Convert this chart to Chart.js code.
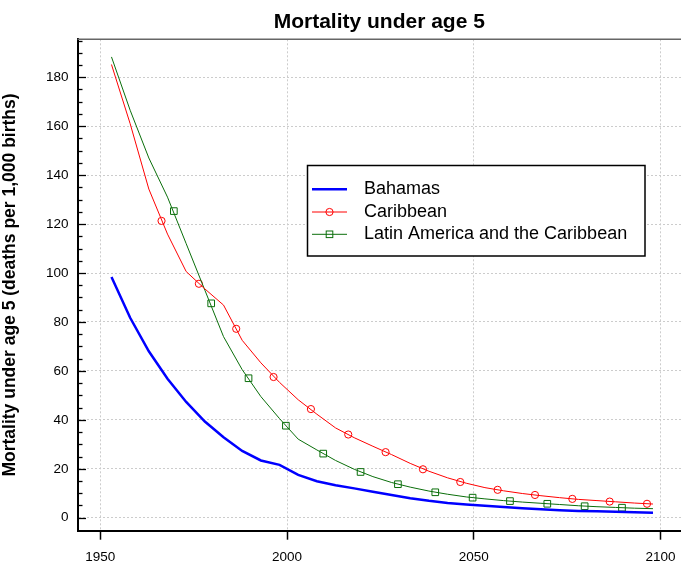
<!DOCTYPE html>
<html>
<head>
<meta charset="utf-8">
<script src="https://cdn.jsdelivr.net/npm/chart.js@4/dist/chart.umd.min.js"></script>
<style>
html, body { margin: 0; padding: 0; background: #fff; }
</style>
</head>
<body>
<canvas id="chart" width="681" height="565"></canvas>
<script>
var chartTitle = "Mortality under age 5";
var yTitle = "Mortality under age 5 (deaths per 1,000 births)";
var seriesNames = ["Bahamas", "Caribbean", "Latin America and the Caribbean"];

var years = [1953, 1958, 1963, 1968, 1973, 1978, 1983, 1988, 1993, 1998,
             2003, 2008, 2013, 2018, 2023, 2028, 2033, 2038, 2043, 2048,
             2053, 2058, 2063, 2068, 2073, 2078, 2083, 2088, 2093, 2098];
var bahamas = [98.4, 81.7, 68.0, 56.8, 47.3, 39.3, 32.9, 27.3, 23.4, 21.6,
               17.5, 14.9, 13.3, 12.0, 10.6, 9.3, 8.0, 6.9, 6.0, 5.4,
               4.9, 4.4, 3.9, 3.5, 3.1, 2.8, 2.6, 2.4, 2.2, 2.0];
var caribbean = [185.2, 161.0, 134.3, 115.9, 100.6, 93.5, 86.9, 72.5, 63.3, 55.3,
                 48.2, 42.3, 36.7, 32.7, 29.2, 25.8, 22.2, 19.0, 16.3, 14.1,
                 12.3, 11.0, 9.9, 9.0, 8.2, 7.5, 7.0, 6.5, 6.0, 5.6];
var latam = [188.3, 166.5, 147.0, 131.0, 112.0, 93.0, 74.0, 60.5, 49.5, 40.5,
             32.1, 27.7, 23.4, 19.8, 16.8, 14.4, 12.5, 10.9, 9.6, 8.5,
             7.7, 7.0, 6.4, 5.9, 5.4, 4.9, 4.5, 4.2, 3.9, 3.7];

// marker positions along the lines
var caribMarkYears = [1966.4, 1976.4, 1986.4, 1996.4, 2006.4, 2016.4, 2026.4,
                      2036.4, 2046.4, 2056.4, 2066.4, 2076.4, 2086.4, 2096.4];
var caribMarks = [121.3, 95.6, 77.2, 57.5, 44.4, 34.0, 26.8, 19.8, 14.6, 11.4, 9.3, 7.7, 6.6, 5.7];
var latamMarkYears = [1969.7, 1979.7, 1989.7, 1999.7, 2009.7, 2019.7, 2029.7,
                      2039.7, 2049.7, 2059.7, 2069.7, 2079.7, 2089.7];
var latamMarks = [125.3, 87.6, 57.0, 37.6, 26.2, 18.7, 13.7, 10.4, 8.2, 6.8, 5.7, 4.7, 4.1];

var xTicks = [1950, 2000, 2050, 2100];
var yTicks = [0, 20, 40, 60, 80, 100, 120, 140, 160, 180];

var font = "'Liberation Sans', Arial, Helvetica, sans-serif";
var blue = "#0000ff", red = "#ff0000", green = "#0a6e0a";

function xy(xs, ys) {
    return xs.map(function (x, i) { return { x: x, y: ys[i] }; });
}

var extras = {
    id: 'extras',
    beforeDatasetsDraw: function (chart) {
        var ctx = chart.ctx, ca = chart.chartArea, ys = chart.scales.y;
        ctx.save();
        // top frame line
        ctx.strokeStyle = "#666";
        ctx.lineWidth = 1.5;
        ctx.beginPath();
        ctx.moveTo(ca.left, ca.top);
        ctx.lineTo(ca.right, ca.top);
        ctx.stroke();
        // inward y ticks, minor every 5
        ctx.strokeStyle = "#000";
        ctx.lineWidth = 1.3;
        for (var v = 0; v <= ys.max; v += 5) {
            var py = Math.round(ys.getPixelForValue(v)) + 0.5;
            var len = (v % 20 === 0) ? 8.5 : 5;
            ctx.beginPath();
            ctx.moveTo(ca.left, py);
            ctx.lineTo(ca.left + len, py);
            ctx.stroke();
        }
        ctx.restore();
    },
    afterDatasetsDraw: function (chart) {
        var ctx = chart.ctx;
        ctx.save();
        // legend box
        ctx.fillStyle = "#fff";
        ctx.fillRect(307.5, 165.5, 337.5, 90.5);
        ctx.strokeStyle = "#000";
        ctx.lineWidth = 1.5;
        ctx.strokeRect(307.5, 165.5, 337.5, 90.5);
        var rows = [189.3, 212, 234.3];
        var cols = [blue, red, green];
        var widths = [2.5, 1, 1];
        for (var i = 0; i < 3; i++) {
            ctx.strokeStyle = cols[i];
            ctx.lineWidth = widths[i];
            ctx.beginPath();
            ctx.moveTo(312, rows[i]);
            ctx.lineTo(347, rows[i]);
            ctx.stroke();
            ctx.lineWidth = 1;
            if (i === 1) {
                ctx.beginPath();
                ctx.arc(329.5, rows[i], 3.6, 0, Math.PI * 2);
                ctx.stroke();
            } else if (i === 2) {
                ctx.strokeRect(326.2, rows[i] - 3.3, 6.6, 6.6);
            }
            ctx.fillStyle = "#000";
            ctx.font = "18px " + font;
            ctx.textAlign = "left";
            ctx.textBaseline = "middle";
            ctx.fillText(seriesNames[i], 364, rows[i]);
        }
        ctx.restore();
    },
    afterDraw: function (chart) {
        var ctx = chart.ctx, ca = chart.chartArea;
        ctx.save();
        ctx.fillStyle = "#000";
        ctx.font = "bold 21px " + font;
        ctx.textAlign = "center";
        ctx.textBaseline = "middle";
        ctx.fillText(chartTitle, (ca.left + ca.right) / 2, 22.5);
        ctx.restore();
    }
};

var ctx = document.getElementById("chart").getContext("2d");
var chart = new Chart(ctx, {
    type: 'line',
    data: {
        datasets: [
            { label: seriesNames[0], data: xy(years, bahamas), borderColor: blue, borderWidth: 2.5,
              pointRadius: 0, fill: false, tension: 0 },
            { label: seriesNames[1], data: xy(years, caribbean), borderColor: red, borderWidth: 1,
              pointRadius: 0, fill: false, tension: 0 },
            { label: seriesNames[2], data: xy(years, latam), borderColor: green, borderWidth: 1,
              pointRadius: 0, fill: false, tension: 0 },
            { label: "carib marks", data: xy(caribMarkYears, caribMarks), showLine: false,
              pointStyle: 'circle', pointRadius: 3.6, pointBorderWidth: 1,
              pointBorderColor: red, pointBackgroundColor: 'rgba(0,0,0,0)' },
            { label: "latam marks", data: xy(latamMarkYears, latamMarks), showLine: false,
              pointStyle: 'rect', pointRadius: 4.7, pointBorderWidth: 1,
              pointBorderColor: green, pointBackgroundColor: 'rgba(0,0,0,0)' }
        ]
    },
    options: {
        responsive: false,
        animation: false,
        devicePixelRatio: 1,
        layout: { autoPadding: false, padding: { top: 39.3, right: 0, bottom: 0, left: 0 } },
        plugins: {
            legend: { display: false },
            title: { display: false },
            tooltip: { enabled: false }
        },
        scales: {
            x: {
                type: 'linear',
                min: 1943.9,
                max: 2105.5,
                afterBuildTicks: function (s) { s.ticks = xTicks.map(function (v) { return { value: v }; }); },
                afterFit: function (s) { s.height = 34.3; s.paddingLeft = 0; s.paddingRight = 0; },
                grid: { color: '#cccccc', lineWidth: 1, tickColor: '#000', tickLength: 9, tickWidth: 1.5 },
                border: { display: true, color: '#000', width: 2, dash: [2, 2] },
                ticks: {
                    color: '#000',
                    padding: 9,
                    font: { family: font, size: 13.5 },
                    maxRotation: 0,
                    callback: function (v) { return String(v); }
                }
            },
            y: {
                min: -5.3,
                max: 195.5,
                afterBuildTicks: function (s) { s.ticks = yTicks.map(function (v) { return { value: v }; }); },
                afterFit: function (s) { s.width = 77.5; s.paddingTop = 0; s.paddingBottom = 0; },
                grid: { color: '#cccccc', lineWidth: 1, drawTicks: false },
                border: { display: true, color: '#000', width: 2, dash: [2, 2] },
                ticks: {
                    color: '#000',
                    padding: 9,
                    font: { family: font, size: 13.5 }
                },
                title: {
                    display: true,
                    text: yTitle,
                    color: '#000',
                    padding: 0,
                    font: { family: font, size: 17.5, weight: 'bold' }
                }
            }
        }
    },
    plugins: [extras]
});
</script>
</body>
</html>
